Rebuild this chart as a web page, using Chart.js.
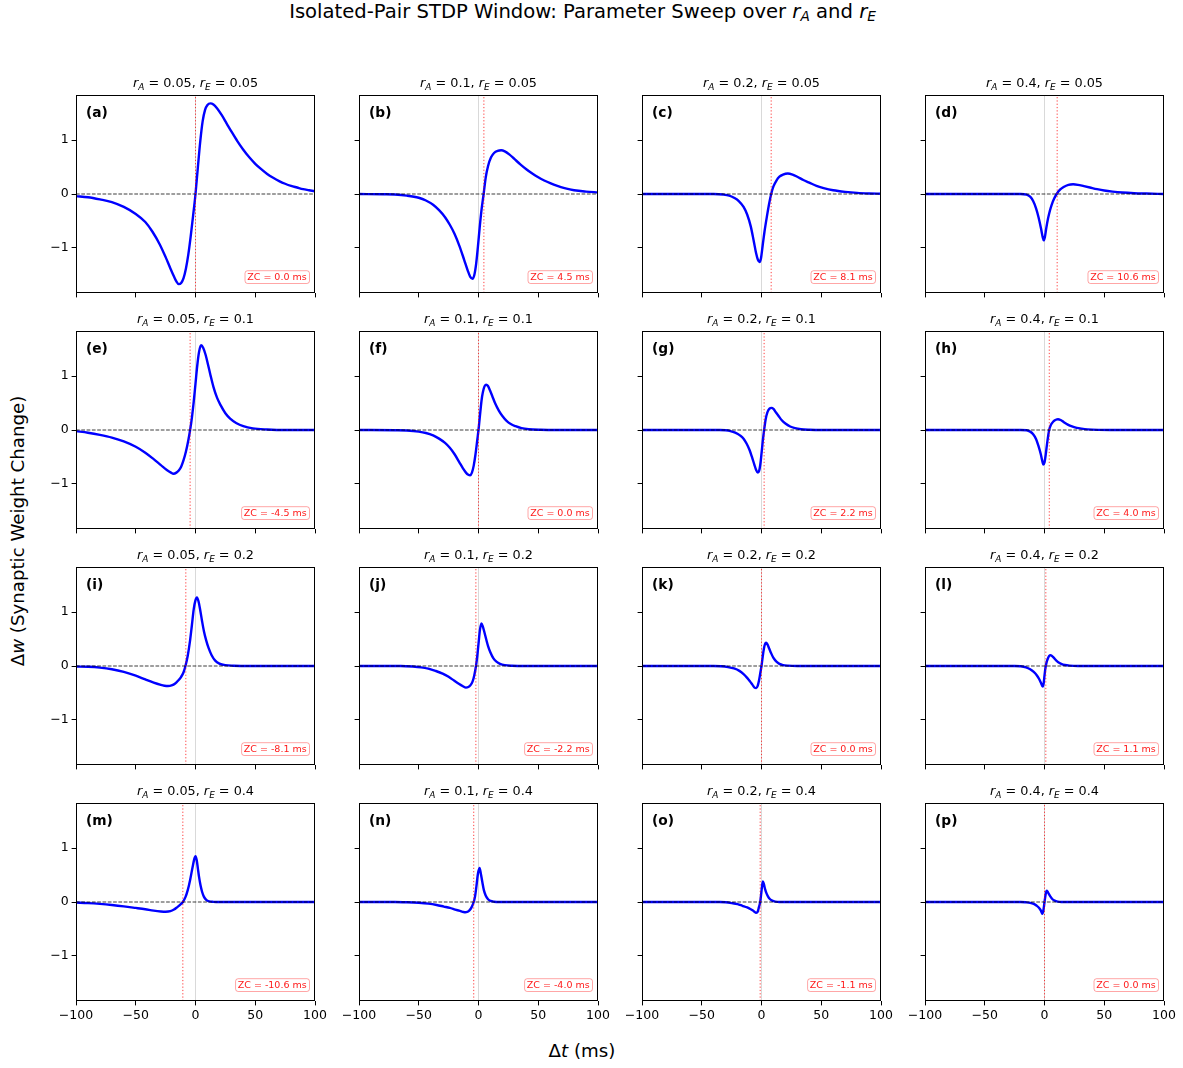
<!DOCTYPE html>
<html>
<head>
<meta charset="utf-8">
<script src="https://cdn.jsdelivr.net/npm/chart.js@4.4.1/dist/chart.umd.min.js"></script>
<style>
  body { margin: 0; background: #fff; }
  #fig { position: relative; width: 1183px; height: 1068px; overflow: hidden;
         font-family: "DejaVu Sans", sans-serif; color: #000; }
  #fig canvas { position: absolute; }
  .lbl { position: absolute; white-space: nowrap; line-height: 22px; }
  .lbl sub { font-size: 70%; vertical-align: -0.25em; line-height: 0; }
  #sup { left: 582.5px; top: 1px; font-size: 19.6px; transform: translateX(-50%); }
  #xlab { left: 582px; top: 1040px; font-size: 18.2px; transform: translateX(-50%); }
  #ylab { left: 17.5px; top: 531px; font-size: 18.2px; transform: translate(-50%, -50%) rotate(-90deg); }
</style>
</head>
<body>
<div id="fig">
  <div class="lbl" id="sup">Isolated-Pair STDP Window: Parameter Sweep over <i>r</i><sub><i>A</i></sub> and <i>r</i><sub><i>E</i></sub></div>
  <div class="lbl" id="xlab">&Delta;<i>t</i> (ms)</div>
  <div class="lbl" id="ylab">&Delta;<i>w</i> (Synaptic Weight Change)</div>
</div>
<script>
// ---- data ----
const xTickValues = [-100, -50, 0, 50, 100];
const yTickValues = [-1, 0, 1];
const rAValues = [0.05, 0.1, 0.2, 0.4];   // columns
const rEValues = [0.05, 0.1, 0.2, 0.4];   // rows
const panelLetters = ['a','b','c','d','e','f','g','h','i','j','k','l','m','n','o','p'];
// zero crossing (ms), one row per rE
const zcRow1 = [0.0, 4.5, 8.1, 10.6];
const zcRow2 = [-4.5, 0.0, 2.2, 4.0];
const zcRow3 = [-8.1, -2.2, 0.0, 1.1];
const zcRow4 = [-10.6, -4.0, -1.1, 0.0];

// curves: [dt (ms), dw]
const curveA = [[-100,-0.04],[-90,-0.06],[-80,-0.1],[-70,-0.15],[-60,-0.24],[-50,-0.37],[-42,-0.52],[-36,-0.7],[-30,-0.93],[-25,-1.17],[-21,-1.38],[-18,-1.53],[-16,-1.62],[-14,-1.67],[-12,-1.65],[-10,-1.56],[-8,-1.38],[-6,-1.12],[-4,-0.78],[-2,-0.4],[0,0],[2,0.5],[4,0.98],[6,1.35],[8,1.56],[10,1.65],[12.5,1.68],[15,1.66],[18,1.59],[22,1.46],[26,1.31],[30,1.16],[35,0.98],[40,0.82],[45,0.68],[50,0.56],[55,0.46],[60,0.37],[65,0.3],[70,0.24],[75,0.19],[80,0.15],[85,0.12],[90,0.09],[95,0.07],[100,0.05]];
const curveB = [[-100,0],[-80,-0.005],[-70,-0.01],[-60,-0.03],[-50,-0.07],[-44,-0.12],[-38,-0.2],[-33,-0.3],[-28,-0.43],[-24,-0.57],[-20,-0.74],[-16,-0.96],[-12,-1.22],[-9,-1.42],[-7,-1.53],[-5,-1.57],[-3.5,-1.5],[-2,-1.3],[-0.5,-0.98],[1,-0.62],[2.5,-0.3],[4.3,0],[6,0.3],[8,0.52],[10.5,0.68],[13,0.76],[16,0.8],[19,0.81],[22,0.79],[26,0.73],[30,0.65],[35,0.55],[40,0.46],[45,0.38],[50,0.31],[55,0.25],[60,0.2],[66,0.15],[72,0.11],[80,0.07],[90,0.045],[100,0.03]];
const curveC = [[-100,0],[-40,0],[-32,-0.01],[-27,-0.03],[-23,-0.07],[-19,-0.13],[-15,-0.24],[-12,-0.38],[-9,-0.6],[-6.5,-0.87],[-4.5,-1.1],[-3,-1.22],[-1.7,-1.26],[-0.5,-1.2],[1,-0.95],[2.5,-0.7],[4.5,-0.42],[6.3,-0.19],[8.1,0],[10,0.14],[12.5,0.25],[15,0.32],[18,0.36],[22,0.38],[26,0.36],[30,0.32],[35,0.26],[40,0.21],[46,0.15],[52,0.11],[60,0.07],[70,0.04],[80,0.02],[90,0.01],[100,0.005]];
const curveD = [[-100,0],[-20,0],[-15,-0.01],[-12,-0.05],[-9.5,-0.13],[-7,-0.27],[-5,-0.43],[-3,-0.63],[-1.5,-0.8],[-0.7,-0.86],[0.3,-0.8],[1.5,-0.63],[3,-0.45],[4.5,-0.31],[6,-0.2],[8,-0.09],[10.2,0],[13,0.08],[16,0.13],[20,0.17],[24,0.18],[28,0.17],[33,0.145],[38,0.12],[44,0.09],[50,0.065],[57,0.045],[65,0.028],[75,0.015],[85,0.008],[100,0]];
const curveE = [[-100,-0.02],[-90,-0.05],[-80,-0.09],[-70,-0.14],[-60,-0.21],[-50,-0.31],[-42,-0.42],[-35,-0.54],[-29,-0.65],[-24,-0.74],[-20.5,-0.79],[-18.4,-0.81],[-16,-0.79],[-14,-0.75],[-12,-0.68],[-10,-0.56],[-8,-0.4],[-6,-0.19],[-4.5,0],[-3,0.23],[-1.5,0.52],[0,0.86],[1.5,1.2],[3,1.45],[4.7,1.57],[6.5,1.52],[8.5,1.39],[10.5,1.21],[12.5,1.02],[15,0.8],[18,0.6],[21,0.46],[25,0.31],[29,0.21],[34,0.13],[40,0.07],[48,0.03],[60,0.01],[75,0],[100,0]];
const curveF = [[-100,0],[-70,-0.005],[-60,-0.01],[-50,-0.03],[-44,-0.055],[-38,-0.1],[-33,-0.16],[-28,-0.24],[-24,-0.33],[-20,-0.45],[-16,-0.6],[-13,-0.71],[-10.5,-0.79],[-8.5,-0.83],[-7,-0.84],[-5.5,-0.79],[-4,-0.66],[-2.5,-0.45],[-1,-0.18],[0,0],[1,0.22],[2,0.44],[3,0.62],[4.3,0.76],[5.3,0.82],[6.4,0.84],[7.8,0.82],[9.5,0.74],[11.5,0.63],[14,0.49],[17,0.36],[20,0.26],[23.5,0.17],[27,0.11],[31,0.07],[36,0.035],[42,0.015],[52,0.004],[65,0],[100,0]];
const curveG = [[-100,0],[-35,0],[-30,-0.005],[-26,-0.02],[-22,-0.05],[-18,-0.1],[-15,-0.16],[-12.5,-0.25],[-10,-0.37],[-8,-0.5],[-6,-0.64],[-4.5,-0.74],[-3,-0.79],[-2,-0.76],[-1,-0.64],[0,-0.44],[1,-0.22],[2.2,0],[3.5,0.2],[5,0.33],[6.7,0.395],[8.4,0.41],[10,0.39],[12,0.33],[14,0.27],[17,0.18],[20,0.12],[24,0.065],[28,0.035],[33,0.015],[40,0.005],[50,0],[100,0]];
const curveH = [[-100,0],[-20,0],[-15,-0.005],[-12,-0.03],[-9.5,-0.08],[-7,-0.17],[-5,-0.3],[-3.2,-0.44],[-2,-0.56],[-1,-0.64],[0,-0.6],[1,-0.46],[2,-0.28],[3,-0.12],[3.9,0],[5.5,0.1],[7.5,0.16],[9.5,0.19],[11.3,0.2],[13.5,0.185],[16,0.15],[19.5,0.1],[23,0.065],[27,0.04],[31,0.025],[36,0.012],[45,0.003],[60,0],[100,0]];
const curveI = [[-100,-0.01],[-90,-0.015],[-80,-0.03],[-70,-0.06],[-60,-0.11],[-50,-0.18],[-42,-0.25],[-35,-0.31],[-29,-0.35],[-26,-0.365],[-23,-0.372],[-20,-0.36],[-17,-0.325],[-14.5,-0.27],[-12,-0.2],[-10,-0.115],[-8.4,0],[-6.5,0.19],[-4.5,0.48],[-3,0.76],[-1.5,1.05],[0,1.22],[1.2,1.27],[2.5,1.2],[4,1.03],[5.5,0.83],[7,0.65],[9,0.47],[11,0.33],[13.5,0.2],[16.5,0.1],[20,0.045],[25,0.015],[32,0.005],[45,0],[100,0]];
const curveJ = [[-100,0],[-65,0],[-55,-0.01],[-48,-0.025],[-42,-0.05],[-36,-0.09],[-30,-0.14],[-25,-0.2],[-20.5,-0.27],[-16.5,-0.33],[-13,-0.375],[-10.5,-0.4],[-8.5,-0.39],[-6.5,-0.35],[-5,-0.29],[-3.5,-0.17],[-2.1,0],[-1,0.19],[0,0.41],[1.2,0.67],[2.4,0.79],[3.5,0.74],[5,0.62],[6.5,0.49],[8,0.37],[10,0.25],[12.5,0.14],[15,0.08],[18,0.04],[22,0.015],[28,0.004],[40,0],[100,0]];
const curveK = [[-100,0],[-40,0],[-34,-0.005],[-28,-0.02],[-23,-0.045],[-18.5,-0.09],[-15,-0.15],[-12,-0.22],[-9.5,-0.29],[-7.5,-0.35],[-5.8,-0.4],[-4.4,-0.41],[-3.2,-0.37],[-2,-0.26],[-1,-0.13],[0,0],[1,0.17],[2,0.32],[3,0.41],[3.8,0.43],[5,0.4],[6.5,0.32],[8,0.24],[10,0.15],[12.5,0.08],[15,0.04],[18,0.017],[22,0.006],[30,0],[100,0]];
const curveL = [[-100,0],[-25,0],[-20,-0.005],[-15.5,-0.025],[-12,-0.06],[-9,-0.11],[-6.5,-0.17],[-4.5,-0.24],[-3,-0.31],[-1.5,-0.38],[-0.7,-0.32],[0,-0.18],[0.5,-0.08],[1.1,0],[2,0.09],[3,0.15],[4,0.19],[5,0.2],[6,0.19],[7.5,0.16],[9.5,0.11],[11.5,0.07],[14,0.04],[17,0.018],[21,0.006],[28,0],[100,0]];
const curveM = [[-100,-0.01],[-90,-0.02],[-80,-0.035],[-70,-0.055],[-60,-0.08],[-50,-0.11],[-42,-0.135],[-35,-0.16],[-29,-0.175],[-25,-0.18],[-21,-0.17],[-18,-0.14],[-15.5,-0.1],[-13,-0.055],[-10.6,0],[-8.5,0.085],[-6.5,0.22],[-4.5,0.41],[-2.5,0.64],[-1,0.8],[0,0.85],[1,0.78],[2,0.62],[3,0.46],[4.2,0.31],[5.5,0.19],[7,0.1],[9,0.04],[11.5,0.012],[15,0.003],[20,0],[100,0]];
const curveN = [[-100,0],[-70,0],[-60,-0.005],[-50,-0.015],[-42,-0.03],[-35,-0.055],[-29,-0.085],[-24,-0.11],[-19.5,-0.14],[-15.5,-0.165],[-12.5,-0.185],[-11,-0.19],[-9.5,-0.185],[-8,-0.165],[-6.5,-0.125],[-5.2,-0.07],[-4,0],[-3,0.09],[-1.8,0.28],[-0.5,0.52],[0.9,0.63],[2,0.52],[3.2,0.37],[4.5,0.22],[6,0.12],[8,0.05],[10,0.02],[13,0.005],[18,0],[100,0]];
const curveO = [[-100,0],[-35,0],[-30,-0.005],[-25,-0.02],[-20,-0.04],[-16,-0.07],[-12,-0.1],[-9,-0.135],[-6.5,-0.17],[-4.4,-0.2],[-3.2,-0.18],[-2.2,-0.1],[-1.1,0],[-0.2,0.16],[0.5,0.3],[1.2,0.38],[2,0.33],[3,0.24],[4.2,0.16],[5.5,0.1],[7,0.055],[9,0.025],[11.5,0.008],[15,0],[100,0]];
const curveP = [[-100,0],[-20,0],[-16,-0.005],[-12,-0.015],[-9,-0.035],[-6.5,-0.07],[-4.5,-0.11],[-3,-0.16],[-1.8,-0.22],[-1,-0.16],[-0.5,-0.09],[0,0],[0.6,0.09],[1.2,0.17],[1.8,0.21],[2.6,0.19],[3.6,0.15],[5,0.1],[6.5,0.055],[8.5,0.025],[11,0.008],[14,0],[100,0]];

const zcRows = [zcRow1, zcRow2, zcRow3, zcRow4];
const curveRows = [
  [curveA, curveB, curveC, curveD],
  [curveE, curveF, curveG, curveH],
  [curveI, curveJ, curveK, curveL],
  [curveM, curveN, curveO, curveP]
];

// ---- layout ----
const plotLefts = [76, 359, 642, 925];
const plotTops = [95, 331, 567, 803];
const plotW = 239, plotH = 198;
const padL = 50, padT = 30, padR = 20, padB = 30;
const yLim = 1.835;
const FONT = '"DejaVu Sans", sans-serif';

function fmtTick(v) {
  return v < 0 ? '\u2212' + Math.abs(v) : String(v);
}

function drawTitle(ctx, cx, baseY, ra, re) {
  const size = 12.8;
  const parts = [
    { t: 'r', s: 'i' }, { t: 'A', s: 'sub' }, { t: ' = ' + ra + ', ', s: 'n' },
    { t: 'r', s: 'i' }, { t: 'E', s: 'sub' }, { t: ' = ' + re, s: 'n' }
  ];
  const fontFor = s => s === 'i' ? `italic ${size}px ${FONT}`
                     : s === 'sub' ? `italic ${size * 0.7}px ${FONT}`
                     : `${size}px ${FONT}`;
  let total = 0;
  parts.forEach(p => { ctx.font = fontFor(p.s); p.w = ctx.measureText(p.t).width; total += p.w; });
  let x = cx - total / 2;
  ctx.fillStyle = '#000';
  ctx.textBaseline = 'alphabetic';
  ctx.textAlign = 'left';
  parts.forEach(p => {
    ctx.font = fontFor(p.s);
    ctx.fillText(p.t, x, baseY + (p.s === 'sub' ? 2.8 : 0));
    x += p.w;
  });
}

function roundRect(ctx, x, y, w, h, r) {
  ctx.beginPath();
  ctx.moveTo(x + r, y);
  ctx.arcTo(x + w, y, x + w, y + h, r);
  ctx.arcTo(x + w, y + h, x, y + h, r);
  ctx.arcTo(x, y + h, x, y, r);
  ctx.arcTo(x, y, x + w, y, r);
  ctx.closePath();
}

const panelDecor = {
  id: 'panelDecor',
  afterDatasetsDraw(chart, args, opts) {
    const { ctx, chartArea: a } = chart;
    ctx.save();
    // frame
    ctx.strokeStyle = '#000';
    ctx.lineWidth = 1;
    ctx.strokeRect(a.left + 0.5, a.top + 0.5, a.width - 1, a.height - 1);
    // title
    drawTitle(ctx, (a.left + a.right) / 2, a.top - 8, opts.ra, opts.re);
    // panel letter
    ctx.font = `bold 13.75px ${FONT}`;
    ctx.fillStyle = '#000';
    ctx.textAlign = 'left';
    ctx.fillText('(' + opts.letter + ')', a.left + 10, a.top + 21.5);
    // zero-crossing box
    const txt = 'ZC = ' + opts.zc.toFixed(1) + ' ms';
    ctx.font = `9.5px ${FONT}`;
    const tw = ctx.measureText(txt).width;
    const bw = tw + 5, bh = 12.8;
    const bx = a.right - 6 - bw, by = a.bottom - 10 - bh;
    roundRect(ctx, bx + 0.5, by + 0.5, bw, bh, 2.6);
    ctx.fillStyle = 'rgba(255,255,255,0.8)';
    ctx.fill();
    ctx.strokeStyle = 'rgba(255,0,0,0.35)';
    ctx.lineWidth = 1;
    ctx.stroke();
    ctx.fillStyle = 'rgba(255,0,0,0.9)';
    ctx.textBaseline = 'middle';
    ctx.fillText(txt, bx + 2.7, by + bh / 2 + 1);
    ctx.restore();
  }
};

const fig = document.getElementById('fig');

for (let row = 0; row < 4; row++) {
  for (let col = 0; col < 4; col++) {
    const idx = row * 4 + col;
    const canvas = document.createElement('canvas');
    const cw = padL + plotW + padR, chh = padT + plotH + padB;
    canvas.width = cw; canvas.height = chh;
    canvas.style.width = cw + 'px'; canvas.style.height = chh + 'px';
    canvas.style.left = (plotLefts[col] - padL) + 'px';
    canvas.style.top = (plotTops[row] - padT) + 'px';
    fig.appendChild(canvas);

    const zc = zcRows[row][col];
    const curve = curveRows[row][col].map(p => ({ x: p[0], y: p[1] }));

    new Chart(canvas, {
      type: 'line',
      data: {
        datasets: [
          { data: [{ x: zc, y: -yLim }, { x: zc, y: yLim }],
            borderColor: 'rgba(255,0,0,0.75)', borderWidth: 1, borderDash: [1.25, 2.05],
            pointRadius: 0, tension: 0 },
          { data: [{ x: -100, y: 0 }, { x: 100, y: 0 }],
            borderColor: 'rgba(0,0,0,0.9)', borderWidth: 0.85, borderDash: [3.7, 1.6],
            pointRadius: 0, tension: 0 },
          { data: curve,
            borderColor: '#0000ff', borderWidth: 2.4, pointRadius: 0,
            cubicInterpolationMode: 'monotone' },
          { data: [{ x: 0, y: -yLim }, { x: 0, y: yLim }],
            borderColor: 'rgba(128,128,128,0.3)', borderWidth: 1,
            pointRadius: 0, tension: 0 }
        ]
      },
      options: {
        responsive: false,
        animation: false,
        devicePixelRatio: 1,
        events: [],
        layout: { padding: { top: padT, right: padR, left: 0, bottom: 0 } },
        plugins: {
          legend: { display: false },
          tooltip: { enabled: false },
          panelDecor: { ra: rAValues[col], re: rEValues[row], letter: panelLetters[idx], zc: zc }
        },
        scales: {
          x: {
            type: 'linear', min: -100, max: 100,
            afterBuildTicks: s => { s.ticks = xTickValues.map(v => ({ value: v })); },
            afterFit: s => { s.height = padB; s.paddingLeft = 0; s.paddingRight = 0; },
            border: { display: false },
            grid: { drawOnChartArea: false, drawTicks: true, tickLength: 4.4, tickColor: '#000', tickWidth: 1 },
            ticks: { display: row === 3, color: '#000', padding: 3, maxRotation: 0, autoSkip: false,
                     font: { family: FONT, size: 12.5 }, callback: v => fmtTick(v) }
          },
          y: {
            type: 'linear', min: -yLim, max: yLim,
            afterBuildTicks: s => { s.ticks = yTickValues.map(v => ({ value: v })); },
            afterFit: s => { s.width = padL; s.paddingTop = 0; s.paddingBottom = 0; },
            border: { display: false },
            grid: { drawOnChartArea: false, drawTicks: true, tickLength: 4.4, tickColor: '#000', tickWidth: 1 },
            ticks: { display: col === 0, color: '#000', padding: 3,
                     font: { family: FONT, size: 12.5 }, callback: v => fmtTick(v) }
          }
        }
      },
      plugins: [panelDecor]
    });
  }
}
</script>
</body>
</html>
